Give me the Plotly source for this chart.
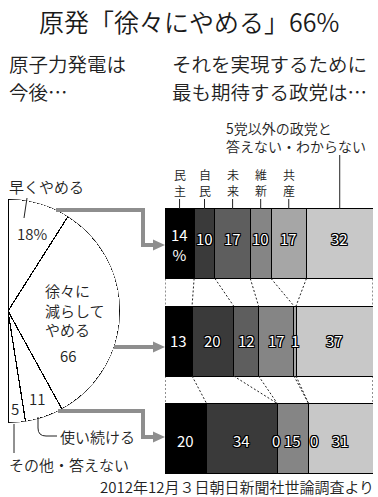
import plotly.graph_objects as go

W, H = 378, 497
FONT = "Noto Sans CJK JP"
WEIGHT = 350

# ---------------- data ----------------
title_text = "原発「徐々にやめる」66%"
left_subtitle = ["原子力発電は", "今後…"]
right_subtitle = ["それを実現するために", "最も期待する政党は…"]
source_text = "2012年12月３日朝日新聞社世論調査より"

pie_labels = ["早くやめる", "徐々に減らしてやめる", "使い続ける", "その他・答えない"]
pie_values = [18, 66, 11, 5]

parties = ["民主", "自民", "未来", "維新", "共産", "5党以外の政党と答えない・わからない"]
party_short = ["民主", "自民", "未来", "維新", "共産"]
other_label = ["5党以外の政党と", "答えない・わからない"]
party_colors = ["#000000", "#3a3a3a", "#5e5e5e", "#858585", "#a6a6a6", "#c8c8c8"]

bar_groups = ["早くやめる", "徐々に減らしてやめる", "使い続ける"]
early_values = [14, 10, 17, 10, 17, 32]
gradual_values = [13, 20, 12, 17, 1, 37]
keep_values = [20, 34, 0, 15, 0, 31]
rows = [early_values, gradual_values, keep_values]


def px(x):
    return x / W


def py(y):
    return 1 - y / H


fig = go.Figure()

# ---------------- half pie (polar sector) ----------------
total = sum(pie_values)
widths = [v / total * 180 for v in pie_values]
thetas = []
acc = 0
for w in widths:
    thetas.append(acc + w / 2)
    acc += w
fig.add_trace(go.Barpolar(
    r=[1] * len(pie_values), theta=thetas, width=widths,
    marker=dict(color="white", line=dict(color="black", width=1.2)),
    subplot="polar", showlegend=False, hoverinfo="skip"))

# ---------------- stacked bars ----------------
BAR_W = 70 / 97.5
for i, p in enumerate(parties):
    fig.add_trace(go.Bar(
        y=bar_groups, x=[r[i] for r in rows], orientation="h",
        marker=dict(color=party_colors[i], line=dict(color="black", width=1)),
        width=BAR_W, showlegend=False, hoverinfo="skip", name=p))

c0 = 243.5
step = 97.5
fig.update_layout(
    width=W, height=H, margin=dict(l=0, r=0, t=0, b=0),
    paper_bgcolor="white", plot_bgcolor="rgba(0,0,0,0)",
    barmode="stack", showlegend=False,
    font=dict(family=FONT, color="#222"),
    xaxis=dict(domain=[px(165), px(373)], range=[0, 100], visible=False, fixedrange=True),
    yaxis=dict(domain=[0, 1], type="category", categoryorder="array", categoryarray=bar_groups,
               range=[(H - c0) / step, -c0 / step], visible=False),
    polar=dict(domain=dict(x=[px(8), px(120)], y=[py(423), py(199)]),
               sector=[-90, 90], bgcolor="rgba(0,0,0,0)",
               angularaxis=dict(rotation=90, direction="clockwise", visible=False),
               radialaxis=dict(visible=False, range=[0, 1])),
)

annotations = []
shapes = []


def txt(x, y, s, size, anchor="left", color="#222", **kw):
    annotations.append(dict(x=px(x), y=py(y), xref="paper", yref="paper", text=s,
                            showarrow=False, xanchor=anchor, yanchor="middle",
                            font=dict(family=FONT, size=size, color=color, weight=WEIGHT), **kw))


def line(x0, y0, x1, y1, color="#222", width=1, dash=None):
    shapes.append(dict(type="line", xref="paper", yref="paper", x0=px(x0), y0=py(y0),
                       x1=px(x1), y1=py(y1), line=dict(color=color, width=width, dash=dash)))


def path(pts, color, width=0, fill=None):
    d = "M " + " L ".join(f"{px(x)},{py(y)}" for x, y in pts)
    if fill:
        d += " Z"
    shapes.append(dict(type="path", xref="paper", yref="paper", path=d,
                       line=dict(color=color, width=width),
                       fillcolor=fill if fill else "rgba(0,0,0,0)"))


# titles
txt(189, 21, title_text, 25, anchor="center", color="#1a1a1a")
for k, s in enumerate(left_subtitle):
    txt(7, 63.2 + 28.3 * k, s, 19.5)
for k, s in enumerate(right_subtitle):
    txt(170, 63.2 + 28.3 * k, s, 19.5)

# pie labels
txt(7, 186, pie_labels[0], 15)
line(27, 198, 24, 218)
txt(15, 233, f"{pie_values[0]}%", 15)
txt(43, 309.5, "徐々に<br>減らして<br>やめる", 15, align="left")
txt(67.5, 355, str(pie_values[1]), 15, anchor="center")
txt(36.5, 398, str(pie_values[2]), 15, anchor="center")
txt(15, 408, str(pie_values[3]), 15, anchor="center")
txt(58, 436, pie_labels[2], 15)
shapes.append(dict(type="path", xref="paper", yref="paper",
                   path=f"M {px(38)},{py(417)} L {px(38)},{py(428)} Q {px(38)},{py(436)} {px(46)},{py(436)} L {px(57)},{py(436)}",
                   line=dict(color="#222", width=1)))
txt(7, 464, pie_labels[3], 15)
line(14, 424, 14, 453)

# arrows
GRAY = "#8e8e8e"
path([(56, 210), (143, 210), (143, 245), (155, 245)], GRAY, 4)
path([(153, 239.5), (165, 245), (153, 250.5)], GRAY, 0, fill=GRAY)
path([(114, 347), (155, 347)], GRAY, 4)
path([(153, 341.5), (165, 347), (153, 352.5)], GRAY, 0, fill=GRAY)
path([(58, 411), (143, 411), (143, 437), (155, 437)], GRAY, 4)
path([(153, 431.5), (165, 437), (153, 442.5)], GRAY, 0, fill=GRAY)

# bar value labels
SHADOW = "1px 1px 0 #000, -1px -1px 0 #000, 1px -1px 0 #000, -1px 1px 0 #000, 0 1px 0 #000, 0 -1px 0 #000, 1px 0 0 #000, -1px 0 0 #000"
yshifts = [5.5, 1, -1.5]
for j, r in enumerate(rows):
    acc = 0
    zero_seen = 0
    for i, v in enumerate(r):
        xs = 0
        if v == 0:
            xs = -1 if zero_seen == 0 else 5
            zero_seen += 1
        s = str(v)
        ys = yshifts[j]
        if j == 0 and i == 0:
            s = f"{v}<br>%"
            ys = -1
        annotations.append(dict(x=acc + v / 2, y=j, xref="x", yref="y", text=s, showarrow=False,
                                xanchor="center", yanchor="middle", xshift=xs, yshift=ys,
                                font=dict(family=FONT, size=15, color="white", shadow=SHADOW)))
        acc += v

# dashed connectors between bars
for j in range(len(rows) - 1):
    a = [0]
    b = [0]
    for v in rows[j]:
        a.append(a[-1] + v)
    for v in rows[j + 1]:
        b.append(b[-1] + v)
    for k in range(len(a)):
        shapes.append(dict(type="line", xref="x", yref="y", x0=a[k], y0=j + BAR_W / 2,
                           x1=b[k], y1=j + 1 - BAR_W / 2,
                           line=dict(color="#222", width=1, dash="2px,2px")))

# party labels above first bar (one character per line, stacked vertically)
acc = 0
for i, v in enumerate(early_values):
    cx = acc + v / 2
    acc += v
    if i < len(party_short):
        for k, ch in enumerate(party_short[i]):
            annotations.append(dict(x=cx, y=py(174 + 17 * k), xref="x", yref="paper", text=ch,
                                    showarrow=False, xanchor="center", yanchor="middle",
                                    font=dict(family=FONT, size=12, color="#222", weight=WEIGHT)))
        shapes.append(dict(type="line", xref="x", yref="paper", x0=cx, x1=cx, y0=py(199), y1=py(209),
                           line=dict(color="#222", width=1)))
    else:
        shapes.append(dict(type="line", xref="x", yref="paper", x0=cx, x1=cx, y0=py(155), y1=py(209),
                           line=dict(color="#222", width=1)))
txt(224, 137, "<br>".join(other_label), 14, align="left")

# source
txt(376, 486, source_text, 15, anchor="right")

fig.update_layout(annotations=annotations, shapes=shapes)
fig.write_html("out.html")
